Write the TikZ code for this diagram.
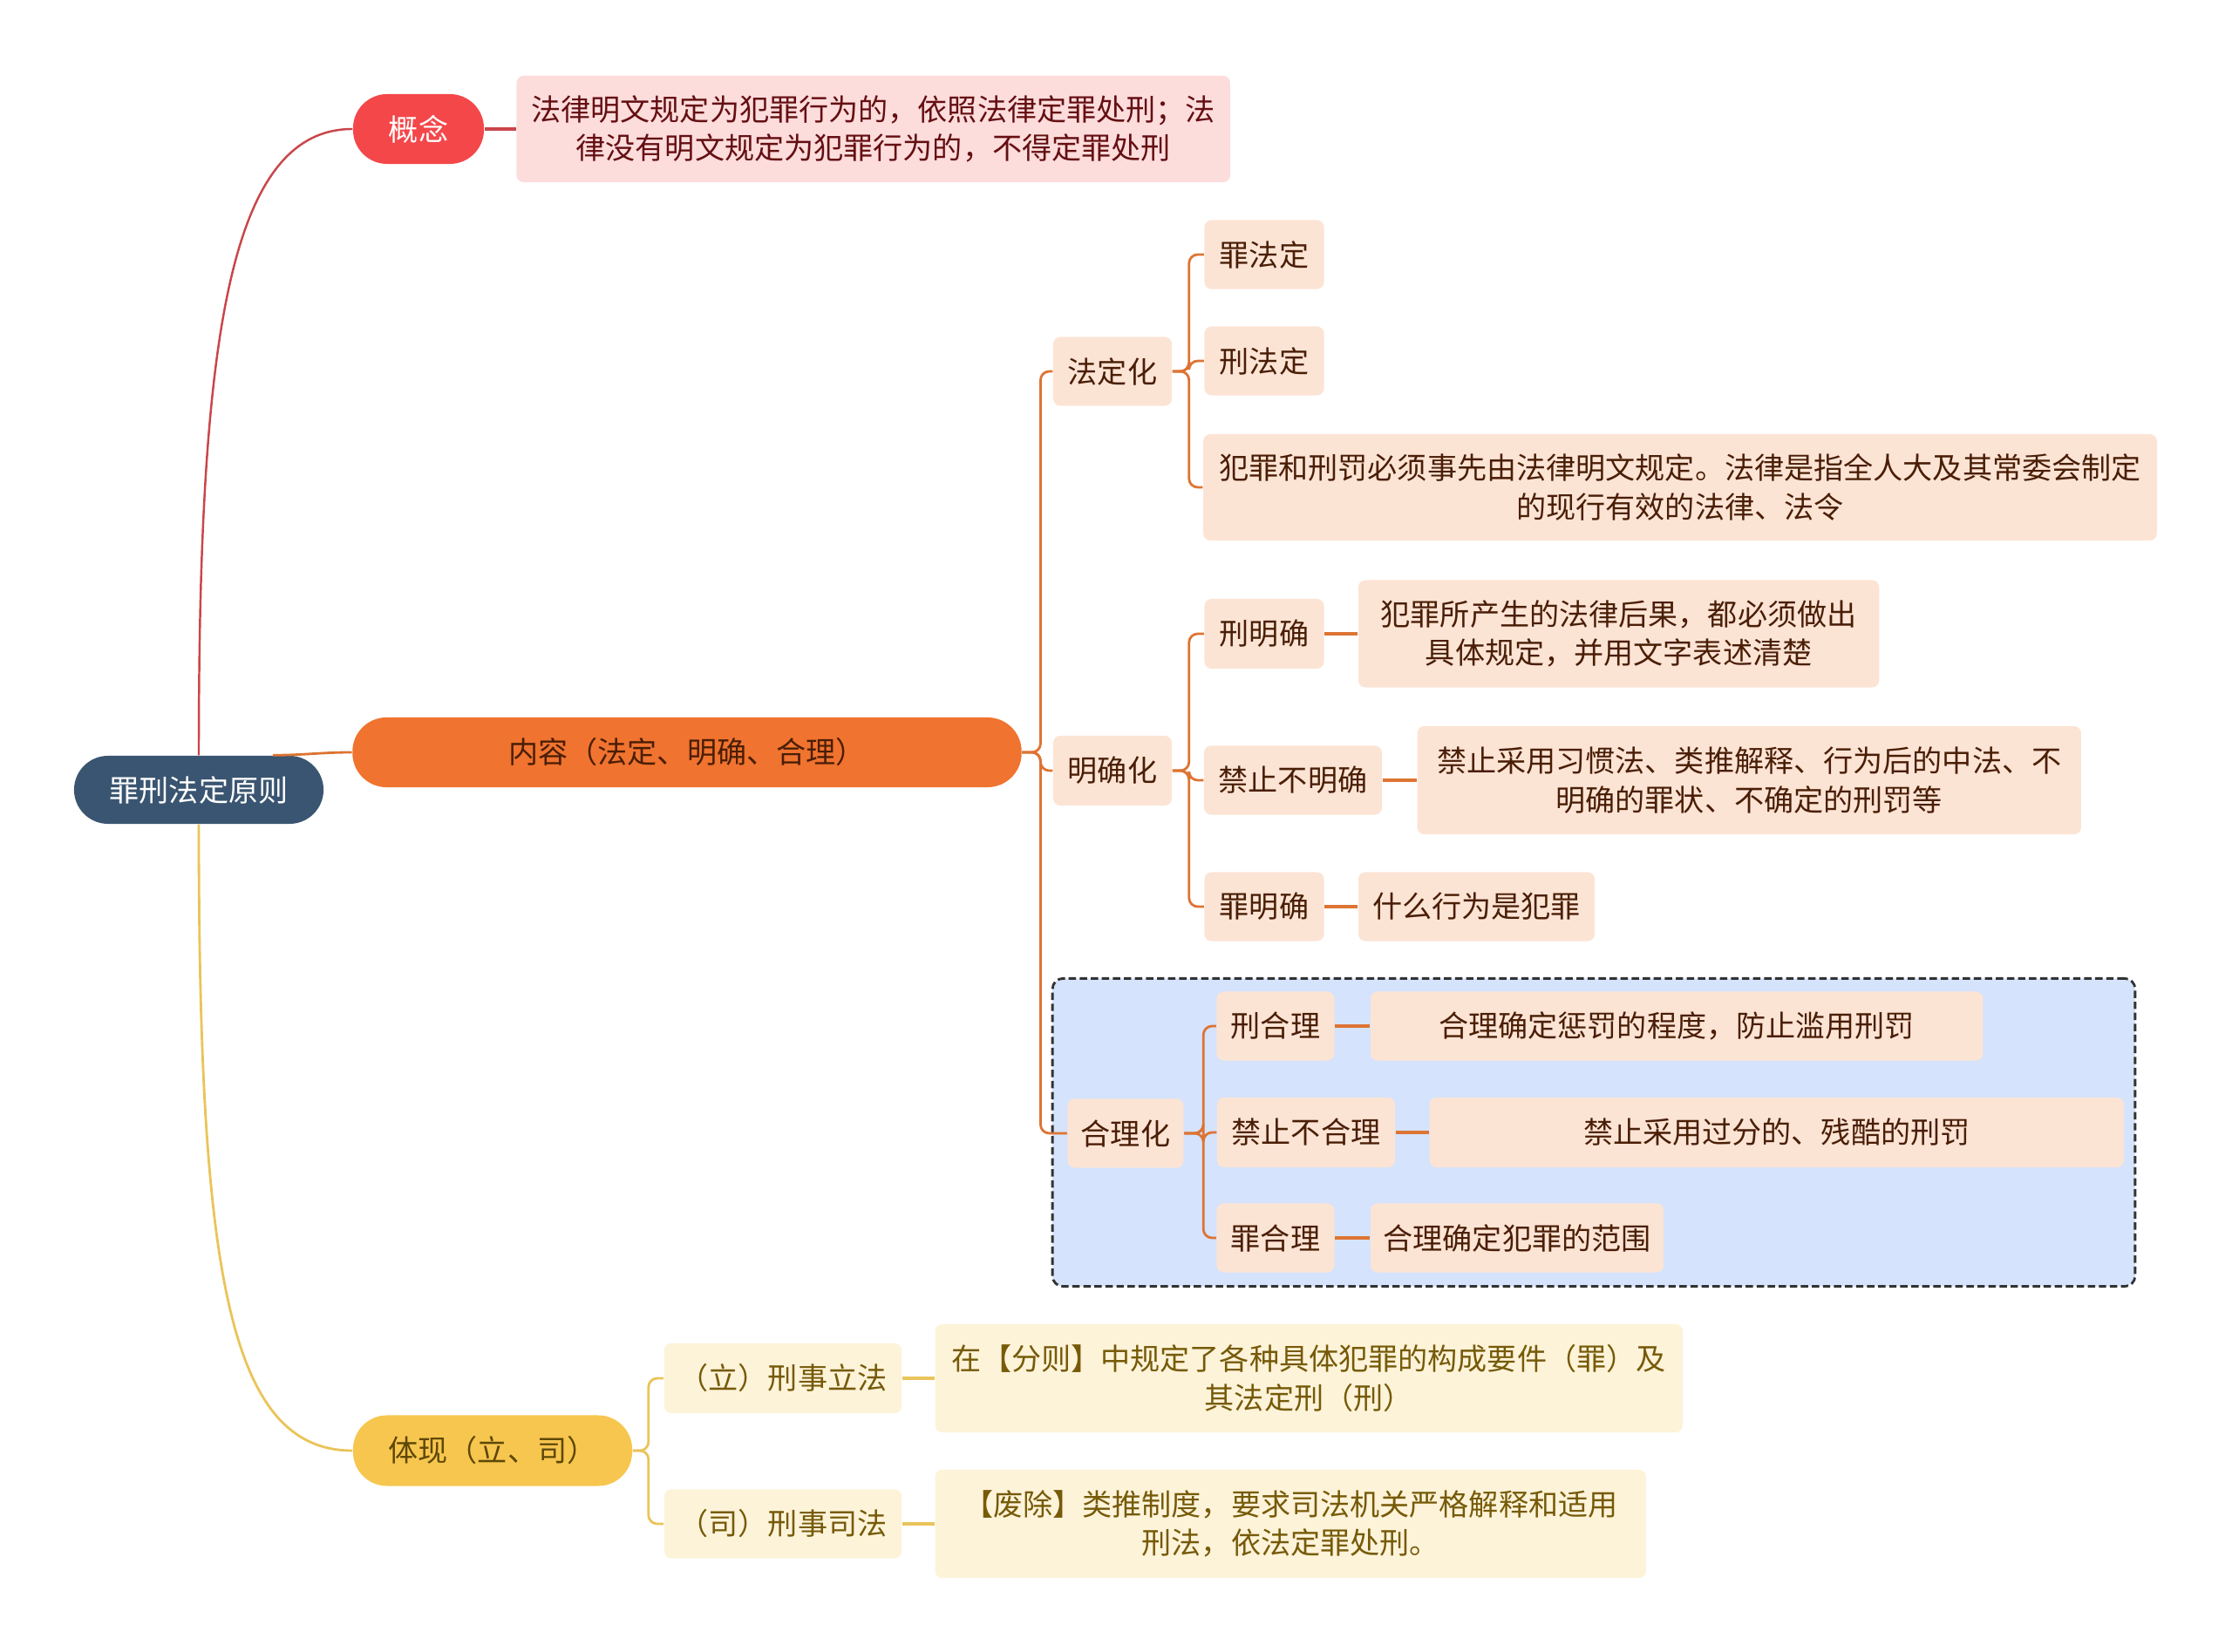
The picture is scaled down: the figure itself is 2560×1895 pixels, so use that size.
\documentclass[tikz,border=0pt]{standalone}
\usepackage{fontspec}
\setmainfont{Noto Sans CJK SC}
\usetikzlibrary{positioning}

\definecolor{rootblue}{HTML}{3A5571}
\definecolor{topicred}{HTML}{F4474A}
\definecolor{topicorange}{HTML}{F0732F}
\definecolor{topicyellow}{HTML}{F7C64F}
\definecolor{leafred}{HTML}{FDDCDC}
\definecolor{leaforange}{HTML}{FCE4D5}
\definecolor{leafyellow}{HTML}{FDF3D9}
\definecolor{textred}{HTML}{640F12}
\definecolor{textbrown}{HTML}{4A1E06}
\definecolor{textolive}{HTML}{765A08}
\definecolor{linered}{HTML}{C9464A}
\definecolor{lineorange}{HTML}{DD7433}
\definecolor{lineyellow}{HTML}{EAC45A}
\definecolor{hlblue}{HTML}{D5E3FC}

\begin{document}
\begin{tikzpicture}[x=0.01cm, y=-0.01cm,
  font=\fontsize{9.7pt}{12.6pt}\selectfont,
  topic/.style={rectangle, rounded corners=0.39cm, minimum height=0.79cm, inner sep=0pt, align=center},
  rootnode/.style={topic, fill=rootblue, text=white},
  redtopic/.style={topic, fill=topicred, text=white},
  orangetopic/.style={topic, fill=topicorange, text=textbrown},
  yellowtopic/.style={topic, fill=topicyellow, text=textolive!80!black},
  leaf/.style={rectangle, rounded corners=0.08cm, minimum height=0.79cm, inner sep=0pt, align=center},
  redleaf/.style={leaf, fill=leafred, text=textred},
  orangeleaf/.style={leaf, fill=leaforange, text=textbrown},
  yellowleaf/.style={leaf, fill=leafyellow, text=textolive},
  hlframe/.style={rectangle, rounded corners=0.12cm, draw=black!80, fill=hlblue, line width=0.8pt, dash pattern=on 2.4pt off 1.2pt},
  redline/.style={draw=linered, line width=0.7pt},
  orangeline/.style={draw=lineorange, line width=0.8pt, rounded corners=0.1cm},
  yellowline/.style={draw=lineyellow, line width=0.8pt, rounded corners=0.1cm},
  link/.style={line width=1.1pt}]
  \useasboundingbox (0,0) rectangle (2560,1895);

  % frame behind the third group
  \node [hlframe, minimum width=12.41cm, minimum height=3.53cm] (hlbox) at (1828,1299) {};

  % main topics
  \node [rootnode, minimum width=2.86cm, minimum height=0.78cm] (root) at (228,906) {罪刑法定原则};
  \node [redtopic, minimum width=1.50cm, minimum height=0.80cm] (gainian) at (480,148) {概念};
  \node [orangetopic, minimum width=7.67cm, minimum height=0.80cm] (neirong) at (788,863) {内容（法定、明确、合理）};
  \node [yellowtopic, minimum width=3.20cm, minimum height=0.81cm] (tixian) at (565,1664) {体现（立、司）};

  \node [redleaf, right=0.36cm of gainian, minimum width=8.18cm, minimum height=1.22cm] (gainiantext)
    {法律明文规定为犯罪行为的，依照法律定罪处刑；法\\律没有明文规定为犯罪行为的，不得定罪处刑};

  % second level
  \node [orangeleaf, minimum width=1.36cm] (fadinghua) at (1276,426) {法定化};
  \node [orangeleaf, minimum width=1.36cm, minimum height=0.80cm] (mingquehua) at (1276,884) {明确化};
  \node [orangeleaf, minimum width=1.33cm] (helihua) at (1291,1300) {合理化};

  % 法定化
  \node [orangeleaf, minimum width=1.37cm] (zuifading) at (1450,292) {罪法定};
  \node [orangeleaf, minimum width=1.37cm] (xingfading) at (1450,414) {刑法定};
  \node [orangeleaf, minimum width=10.93cm, minimum height=1.22cm] (fadingtext) at (1927,559)
    {犯罪和刑罚必须事先由法律明文规定。法律是指全人大及其常委会制定\\的现行有效的法律、法令};

  % 明确化
  \node [orangeleaf, minimum width=1.37cm, minimum height=0.80cm] (xingmingque) at (1450,727) {刑明确};
  \node [orangeleaf, right=0.38cm of xingmingque, minimum width=5.97cm, minimum height=1.23cm] (xingmingquetext)
    {犯罪所产生的法律后果，都必须做出\\具体规定，并用文字表述清楚};
  \node [orangeleaf, minimum width=2.04cm] (jinzhibumingque) at (1483,895) {禁止不明确};
  \node [orangeleaf, right=0.39cm of jinzhibumingque, minimum width=7.61cm, minimum height=1.24cm] (jinzhibumingquetext)
    {禁止采用习惯法、类推解释、行为后的中法、不\\明确的罪状、不确定的刑罚等};
  \node [orangeleaf, minimum width=1.37cm] (zuimingque) at (1450,1040) {罪明确};
  \node [orangeleaf, right=0.38cm of zuimingque, minimum width=2.71cm] (zuimingquetext) {什么行为是犯罪};

  % 合理化
  \node [orangeleaf, minimum width=1.35cm] (xingheli) at (1463,1177) {刑合理};
  \node [orangeleaf, right=0.40cm of xingheli, minimum width=7.02cm] (xinghelitext) {合理确定惩罚的程度，防止滥用刑罚};
  \node [orangeleaf, minimum width=2.04cm, minimum height=0.80cm] (jinzhibuheli) at (1498,1299) {禁止不合理};
  \node [orangeleaf, right=0.38cm of jinzhibuheli, minimum width=7.96cm, minimum height=0.80cm] (jinzhibuhelitext) {禁止采用过分的、残酷的刑罚};
  \node [orangeleaf, minimum width=1.35cm] (zuiheli) at (1463,1420) {罪合理};
  \node [orangeleaf, right=0.40cm of zuiheli, minimum width=3.36cm] (zuihelitext) {合理确定犯罪的范围};

  % 体现
  \node [yellowleaf, minimum width=2.72cm, minimum height=0.80cm] (lifa) at (898,1581) {（立）刑事立法};
  \node [yellowleaf, right=0.37cm of lifa, minimum width=8.57cm, minimum height=1.24cm] (lifatext)
    {在【分则】中规定了各种具体犯罪的构成要件（罪）及\\其法定刑（刑）};
  \node [yellowleaf, minimum width=2.72cm] (sifa) at (898,1748) {（司）刑事司法};
  \node [yellowleaf, right=0.37cm of sifa, minimum width=8.15cm, minimum height=1.24cm] (sifatext)
    {【废除】类推制度，要求司法机关严格解释和适用\\刑法，依法定罪处刑。};

  % connectors
  \draw [redline] (root.north) .. controls (228,400) and (260,148) .. (gainian.west);
  \draw [redline, link] (gainian) -- (gainiantext);
  \draw [orangeline] (root.25) to[out=0, in=180] (neirong.west);
  \draw [yellowline] (root.south) .. controls (228,1450) and (260,1664) .. (tixian.west);

  \foreach \child in {fadinghua, mingquehua, helihua}
    \draw [orangeline] (neirong.east) -- ++(21,0) |- (\child.west);
  \foreach \child in {zuifading, xingfading, fadingtext}
    \draw [orangeline] (fadinghua.east) -- ++(19,0) |- (\child.west);
  \foreach \child in {xingmingque, jinzhibumingque, zuimingque}
    \draw [orangeline] (mingquehua.east) -- ++(19,0) |- (\child.west);
  \foreach \child in {xingheli, jinzhibuheli, zuiheli}
    \draw [orangeline] (helihua.east) -- ++(22,0) |- (\child.west);
  \foreach \child in {lifa, sifa}
    \draw [yellowline] (tixian.east) -- ++(18,0) |- (\child.west);

  \draw [orangeline, link] (xingmingque) -- (xingmingquetext);
  \draw [orangeline, link] (jinzhibumingque) -- (jinzhibumingquetext);
  \draw [orangeline, link] (zuimingque) -- (zuimingquetext);
  \draw [orangeline, link] (xingheli) -- (xinghelitext);
  \draw [orangeline, link] (jinzhibuheli) -- (jinzhibuhelitext);
  \draw [orangeline, link] (zuiheli) -- (zuihelitext);
  \draw [yellowline, link] (lifa) -- (lifatext);
  \draw [yellowline, link] (sifa) -- (sifatext);
\end{tikzpicture}
\end{document}
